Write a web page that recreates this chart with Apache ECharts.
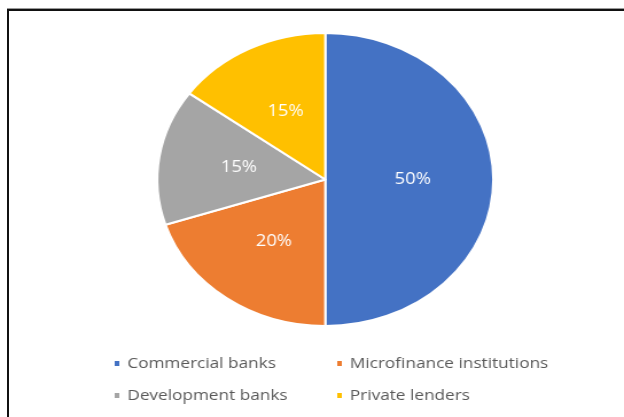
<!DOCTYPE html>
<html>
<head>
<meta charset="utf-8">
<script src="https://cdn.jsdelivr.net/npm/echarts@6/dist/echarts.min.js"></script>
<style>
  html, body { margin: 0; padding: 0; background: #fff; width: 624px; height: 417px; overflow: hidden; }
  #frame {
    position: absolute; left: 7px; top: 8px; width: 640px; height: 430px;
    border-top: 1px solid #9a9a9a; box-sizing: border-box;
  }
  #frameInner {
    position: absolute; left: 7px; top: 9px; width: 640px; height: 430px;
    border-top: 2px solid #111; border-left: 2px solid #111; box-sizing: border-box;
  }
  /* chart is laid out narrower, then widened so the pie becomes an ellipse */
  #chart {
    position: absolute; left: 0; top: 0; width: 544px; height: 417px;
    transform: scaleX(1.147); transform-origin: 0 0;
  }
</style>
</head>
<body>
<div id="frame"></div>
<div id="frameInner"></div>
<div id="chart"></div>
<script>
const categories = ['Commercial banks', 'Microfinance institutions', 'Development banks', 'Private lenders'];
const shares = [50, 20, 15, 15];
const colors = ['#4472C4', '#ED7D31', '#A5A5A5', '#FFC000'];

const chart = echarts.init(document.getElementById('chart'), null, { renderer: 'canvas' });

const legendSpots = [
  { left: 98, top: 355 },
  { left: 292, top: 355 },
  { left: 98, top: 387 },
  { left: 292, top: 387 }
];

const legends = categories.map((name, i) => ({
  data: [name],
  left: legendSpots[i].left,
  top: legendSpots[i].top,
  orient: 'horizontal',
  icon: 'rect',
  itemWidth: 6,
  itemHeight: 7,
  itemGap: 0,
  padding: 0,
  textStyle: {
    color: '#595959',
    fontFamily: 'Open Sans',
    fontSize: 15,
    lineHeight: 17,
    padding: [0, 0, 0, 1]
  },
  selectedMode: false
}));

chart.setOption({
  animation: false,
  color: colors,
  legend: legends,
  series: [{
    type: 'pie',
    center: [283.6, 179.5],
    radius: [0, 146.5],
    startAngle: 90,
    clockwise: true,
    data: categories.map((name, i) => ({ name, value: shares[i] })),
    itemStyle: { borderColor: '#fff', borderWidth: 2 },
    label: {
      show: true,
      position: 'inside',
      formatter: '{c}%',
      color: '#fff',
      fontFamily: 'Open Sans',
      fontSize: 16
    },
    labelLine: { show: false },
    emphasis: { disabled: true }
  }]
});
</script>
</body>
</html>
